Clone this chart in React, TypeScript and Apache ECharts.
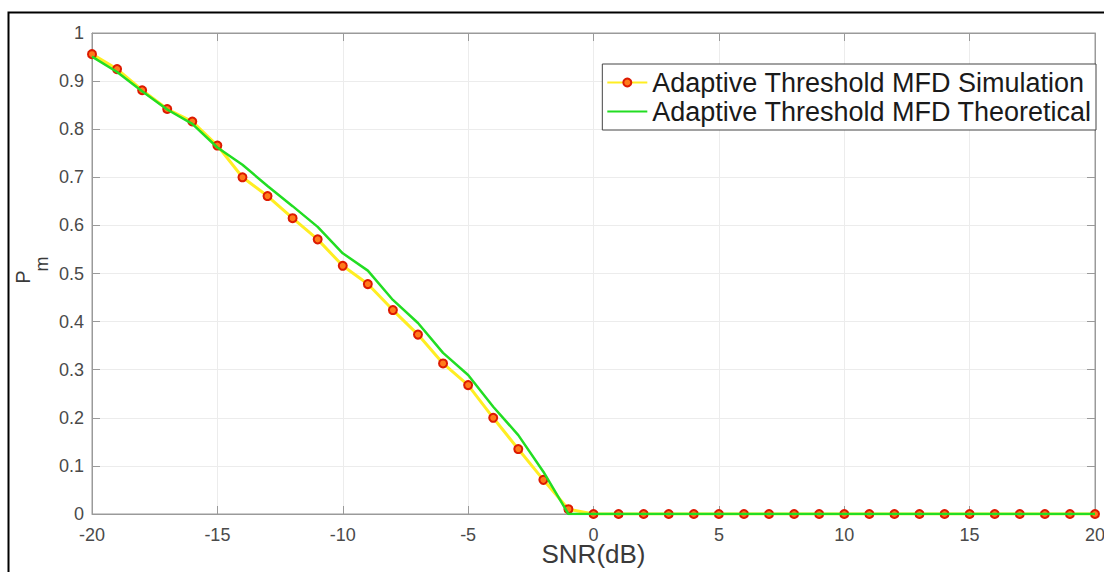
import React, { useEffect, useRef } from "react";
import * as echarts from "echarts";

const snr: number[] = [
  -20, -19, -18, -17, -16, -15, -14, -13, -12, -11, -10, -9, -8, -7, -6, -5, -4, -3, -2, -1,
  0, 1, 2, 3, 4, 5, 6, 7, 8, 9, 10, 11, 12, 13, 14, 15, 16, 17, 18, 19, 20,
];

const simulation: number[] = [
  0.956, 0.925, 0.881, 0.842, 0.816, 0.766, 0.7, 0.661, 0.615, 0.571, 0.516, 0.478, 0.424, 0.373,
  0.313, 0.268, 0.2, 0.135, 0.071, 0.01, 0, 0, 0, 0, 0, 0, 0, 0, 0, 0, 0, 0, 0, 0, 0, 0, 0, 0, 0, 0, 0,
];

const theoretical: number[] = [
  0.951, 0.919, 0.879, 0.841, 0.811, 0.762, 0.726, 0.682, 0.64, 0.597, 0.542, 0.506, 0.445, 0.397,
  0.335, 0.289, 0.223, 0.164, 0.088, 0, 0, 0, 0, 0, 0, 0, 0, 0, 0, 0, 0, 0, 0, 0, 0, 0, 0, 0, 0, 0, 0,
];

const seriesNames: string[] = [
  "Adaptive Threshold MFD Simulation",
  "Adaptive Threshold MFD Theoretical",
];

const xLabel = "SNR(dB)";

const FONT = "'Liberation Sans', Arial, Helvetica, sans-serif";

export default function App() {
  const ref = useRef<HTMLDivElement>(null);

  useEffect(() => {
    if (!ref.current) return;
    const chart = echarts.init(ref.current, undefined, { renderer: "svg" });
    const axisColor = "#9a9a9a";
    const labelColor = "#4a4a4a";
    const gridColor = "#ececec";
    const fmtY = (v: number) => String(parseFloat(v.toFixed(1)));

    chart.setOption({
      animation: false,
      backgroundColor: "#ffffff",
      grid: {
        left: 92,
        right: 9,
        top: 33,
        bottom: 58,
        show: true,
        borderColor: axisColor,
        borderWidth: 1,
        backgroundColor: "transparent",
        containLabel: false,
        outerBoundsMode: "none",
      },
      xAxis: [
        {
          type: "value",
          min: -20,
          max: 20,
          interval: 5,
          position: "bottom",
          name: xLabel,
          nameLocation: "middle",
          nameGap: 27,
          nameMoveOverlap: false,
          nameTextStyle: { fontSize: 26, color: "#3a3a3a", fontFamily: FONT },
          axisLine: { show: true, onZero: false, lineStyle: { color: axisColor, width: 1 } },
          axisTick: { show: true, inside: true, length: 8, lineStyle: { color: axisColor } },
          axisLabel: { fontSize: 18, color: labelColor, fontFamily: FONT, margin: 12 },
          splitLine: { show: true, lineStyle: { color: gridColor, width: 1 } },
        },
        {
          type: "value",
          min: -20,
          max: 20,
          interval: 5,
          position: "top",
          axisLine: { show: true, onZero: false, lineStyle: { color: axisColor, width: 1 } },
          axisTick: { show: true, inside: true, length: 8, lineStyle: { color: axisColor } },
          axisLabel: { show: false },
          splitLine: { show: false },
        },
      ],
      yAxis: [
        {
          type: "value",
          min: 0,
          max: 1,
          interval: 0.1,
          position: "left",
          axisLine: { show: true, onZero: false, lineStyle: { color: axisColor, width: 1 } },
          axisTick: { show: true, inside: true, length: 8, lineStyle: { color: axisColor } },
          axisLabel: { fontSize: 18, color: labelColor, fontFamily: FONT, margin: 8, formatter: fmtY },
          splitLine: { show: true, lineStyle: { color: gridColor, width: 1 } },
        },
        {
          type: "value",
          min: 0,
          max: 1,
          interval: 0.1,
          position: "right",
          axisLine: { show: true, onZero: false, lineStyle: { color: axisColor, width: 1 } },
          axisTick: { show: true, inside: true, length: 8, lineStyle: { color: axisColor } },
          axisLabel: { show: false },
          splitLine: { show: false },
        },
      ],
      legend: {
        orient: "vertical",
        right: 8,
        top: 64,
        backgroundColor: "#ffffff",
        borderColor: "#444444",
        borderWidth: 1,
        borderRadius: 0,
        padding: [5, 4, 5, 4],
        itemGap: 2,
        itemWidth: 40,
        itemHeight: 10,
        textStyle: { fontSize: 27, color: "#1a1a1a", fontFamily: FONT },
        data: [
          { name: seriesNames[0] },
          { name: seriesNames[1], itemStyle: { opacity: 0 } },
        ],
      },
      series: [
        {
          name: seriesNames[0],
          type: "line",
          xAxisIndex: 0,
          yAxisIndex: 0,
          data: snr.map((x, i) => [x, simulation[i]]),
          lineStyle: { color: "#ffee22", width: 3 },
          symbol: "circle",
          symbolSize: 8,
          itemStyle: { color: "#ff7a1a", borderColor: "#dd1a00", borderWidth: 2 },
          z: 2,
        },
        {
          name: seriesNames[1],
          type: "line",
          xAxisIndex: 0,
          yAxisIndex: 0,
          data: snr.map((x, i) => [x, theoretical[i]]),
          lineStyle: { color: "#22dd22", width: 2.5 },
          itemStyle: { color: "#22dd22" },
          symbol: "none",
          z: 3,
        },
      ],
      graphic: [
        {
          type: "rect",
          left: 6,
          top: 10,
          shape: { x: 0, y: 0, width: 1110, height: 600 },
          style: { fill: "none", stroke: "#000000", lineWidth: 2 },
          silent: true,
          z: 0,
        },
        {
          type: "text",
          x: 23,
          y: 277,
          rotation: Math.PI / 2,
          style: {
            text: "P",
            fontSize: 20,
            fill: "#3a3a3a",
            fontFamily: FONT,
            align: "center",
            verticalAlign: "middle",
          },
        },
        {
          type: "text",
          x: 42,
          y: 264,
          rotation: Math.PI / 2,
          style: {
            text: "m",
            fontSize: 18,
            fill: "#3a3a3a",
            fontFamily: FONT,
            align: "center",
            verticalAlign: "middle",
          },
        },
      ],
    });

    return () => {
      chart.dispose();
    };
  }, []);

  return (
    <div
      ref={ref}
      style={{ position: "fixed", left: 0, top: 0, width: 1104, height: 572, background: "#fff" }}
    />
  );
}
